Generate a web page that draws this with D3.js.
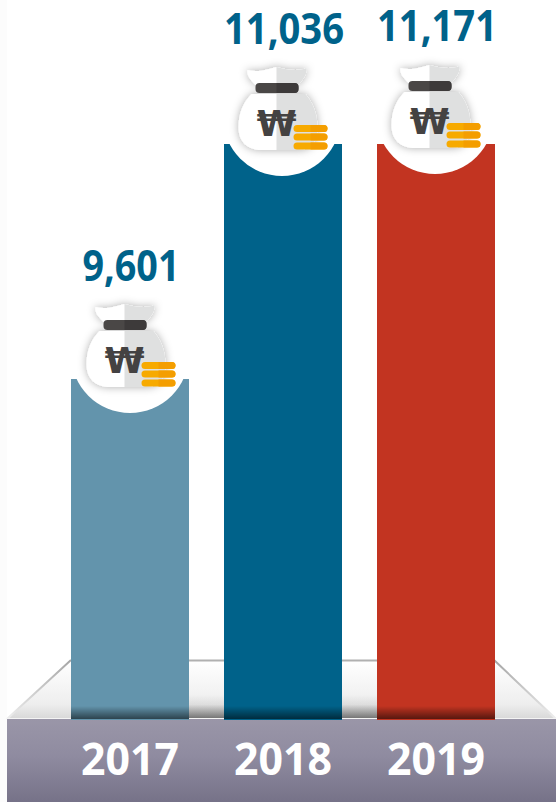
<!DOCTYPE html>
<html>
<head>
<meta charset="utf-8">
<script src="https://cdn.jsdelivr.net/npm/d3@7"></script>
<style>
html, body { margin: 0; padding: 0; background: #fff; }
svg { display: block; }
text { font-family: "Open Sans", "Noto Sans", sans-serif; }
</style>
</head>
<body>
<script>
var years = ["2017", "2018", "2019"];
var amounts = [9601, 11036, 11171];
var barColors = ["#6394ac", "#00628a", "#c23421"];

var width = 556,
    height = 802,
    baseY = 719;

var svg = d3.select("body").append("svg")
    .attr("width", width)
    .attr("height", height);

var defs = svg.append("defs");

var gradient = function(id, stops, x2, y2){
  var g = defs.append("linearGradient")
      .attr("id", id)
      .attr("x1", 0).attr("y1", 0)
      .attr("x2", x2).attr("y2", y2);
  stops.forEach(function(s){
    g.append("stop")
      .attr("offset", s[0])
      .attr("stop-color", s[1])
      .attr("stop-opacity", s[2] === undefined ? 1 : s[2]);
  });
};

gradient("g-band", [[0, "#9a96a8"], [0.45, "#8f8ba0"], [1, "#767288"]], 0, 1);
gradient("g-floor", [[0, "#ffffff"], [0.75, "#eeeeee"], [1, "#d8d8d8"]], 0, 1);
gradient("g-floor-shadow", [[0, "#555", 0], [0.4, "#666", 0.12], [1, "#555", 0.8]], 0, 1);
gradient("g-bar-shadow", [[0, "#000", 0], [1, "#000", 0.55]], 0, 1);
gradient("g-edge-l", [[0, "#a5a5a5"], [1, "#eeeeee"]], 0, 1);

var blur = defs.append("filter")
    .attr("id", "g-bag-shadow")
    .attr("x", "-30%").attr("y", "-30%")
    .attr("width", "160%").attr("height", "160%");
blur.append("feDropShadow")
    .attr("dx", 0).attr("dy", 0)
    .attr("stdDeviation", 4)
    .attr("flood-color", "#000")
    .attr("flood-opacity", 0.32);

// bars sit 35px apart with no outer gap
var x = d3.scaleBand()
    .domain(years)
    .range([71, 495])
    .paddingInner(0.2288)
    .paddingOuter(0);

// the picture's axis is cut off well above zero and tops out at 2018's height
var y = d3.scaleLinear()
    .domain([7525, 11036])
    .range([baseY, 144])
    .clamp(true);

// left-hand strip, floor, back edges
svg.append("rect")
    .attr("width", 7).attr("height", height)
    .attr("fill", "#fcfcfc");

svg.append("path")
    .attr("d", "M7,719L71,660H494L556,719Z")
    .attr("fill", "url(#g-floor)");

svg.append("rect")
    .attr("x", 71).attr("y", 695)
    .attr("width", 424).attr("height", 24)
    .attr("fill", "url(#g-floor-shadow)");

svg.append("line")
    .attr("x1", 71).attr("y1", 660.5)
    .attr("x2", 494).attr("y2", 660.5)
    .attr("stroke", "#b0b0b0").attr("stroke-width", 2);

svg.append("path")
    .attr("d", "M71,660L7,719M494,660L556,719")
    .attr("fill", "none")
    .attr("stroke", "url(#g-edge-l)")
    .attr("stroke-width", 2);

svg.append("rect")
    .attr("x", 7).attr("y", baseY)
    .attr("width", width - 7).attr("height", height - baseY)
    .attr("fill", "url(#g-band)");

svg.append("line")
    .attr("x1", 7).attr("y1", baseY - 0.5)
    .attr("x2", width).attr("y2", baseY - 0.5)
    .attr("stroke", "#f4f4f4");

var data = years.map(function(year, i){
  return {year: year, value: amounts[i], color: barColors[i]};
});

var bars = svg.append("g")
    .attr("class", "g-bars")
  .selectAll("g")
    .data(data)
  .enter().append("g");

bars.append("rect")
    .attr("x", function(d){ return x(d.year) })
    .attr("y", function(d){ return y(d.value) })
    .attr("width", x.bandwidth())
    .attr("height", function(d){ return baseY + 1 - y(d.value) })
    .attr("fill", function(d){ return d.color });

bars.append("rect")
    .attr("x", function(d){ return x(d.year) })
    .attr("y", baseY - 13)
    .attr("width", x.bandwidth())
    .attr("height", 13)
    .attr("fill", "url(#g-bar-shadow)");

// each bag sits a few px differently on its bar
var bagDx = [-5.5, -6.5, -6.5],
    bagDy = [-25, -27, -29];

var bags = bars.append("g")
    .attr("transform", function(d, i){
      return "translate(" + (x(d.year) + x.bandwidth() / 2 + bagDx[i]) + "," + (y(d.value) + bagDy[i]) + ")";
    });

bags.append("circle")
    .attr("cx", 5.5)
    .attr("r", 59)
    .attr("fill", "#fff");

var bag = bags.append("g");

bag.append("path")
    .attr("d", "M0,-50C-8,-48 -19,-44 -29,-47C-30,-42 -27,-38 -21,-32H22C27,-38 31,-43 30,-49C20,-45 8,-48 0,-50Z"
      + "M0,-23H-25C-33,-15 -38,-4 -38,10C-38,25 -29,33 -14,33H22C35,33 41,25 41,10C41,-4 36,-15 29,-23Z")
    .attr("fill", "#fff")
    .attr("filter", "url(#g-bag-shadow)");

bag.append("path")
    .attr("d", "M0,-50C8,-48 20,-45 30,-49C31,-43 27,-38 22,-32H0Z"
      + "M0,-23H29C36,-15 41,-4 41,10C41,25 35,33 22,33H0Z")
    .attr("fill", "#dfe0e0");

bag.append("rect")
    .attr("x", -21).attr("y", -34)
    .attr("width", 43).attr("height", 10)
    .attr("rx", 4)
    .attr("fill", "#4a4746");

bag.append("path")
    .attr("d", "M0,-34H18A4,4 0 0 1 22,-30V-28A4,4 0 0 1 18,-24H0Z")
    .attr("fill", "#3d3a3a");

bag.append("text")
    .attr("x", 0)
    .attr("y", 19)
    .attr("text-anchor", "middle")
    .style("font-family", "'DejaVu Sans'")
    .style("font-weight", 700)
    .style("font-size", "36px")
    .attr("fill", "#444242")
    .text("₩");

[8, 16.5, 25.5].forEach(function(cy){
  bag.append("rect")
    .attr("x", 17).attr("y", cy)
    .attr("width", 34).attr("height", 7)
    .attr("rx", 3.5)
    .attr("fill", "#f7aa00");
  bag.append("path")
    .attr("d", "M34," + cy + "H47.5A3.5,3.5 0 0 1 47.5," + (cy + 7) + "H34Z")
    .attr("fill", "#f49e00");
});

var labelBase = [281, 44, 41];

bars.append("text")
    .attr("x", function(d){ return x(d.year) + x.bandwidth() / 2 + 1 })
    .attr("y", function(d, i){ return labelBase[i] })
    .attr("text-anchor", "middle")
    .attr("textLength", function(d){ return d.value > 9999 ? 120 : 97 })
    .attr("lengthAdjust", "spacingAndGlyphs")
    .style("font-size", "43px")
    .style("font-weight", 700)
    .attr("fill", "#00628a")
    .text(function(d){ return d3.format(",")(d.value) });

var axis = svg.append("g")
    .attr("transform", "translate(0," + baseY + ")")
    .call(d3.axisBottom(x).tickSize(0).tickPadding(0));

axis.select(".domain").remove();

axis.selectAll("text")
    .attr("y", 56)
    .attr("dy", 0)
    .attr("textLength", 98)
    .attr("lengthAdjust", "spacingAndGlyphs")
    .attr("fill", "#fff")
    .style("font-family", "'Open Sans', sans-serif")
    .style("font-size", "44px")
    .style("font-weight", 700);
</script>
</body>
</html>
